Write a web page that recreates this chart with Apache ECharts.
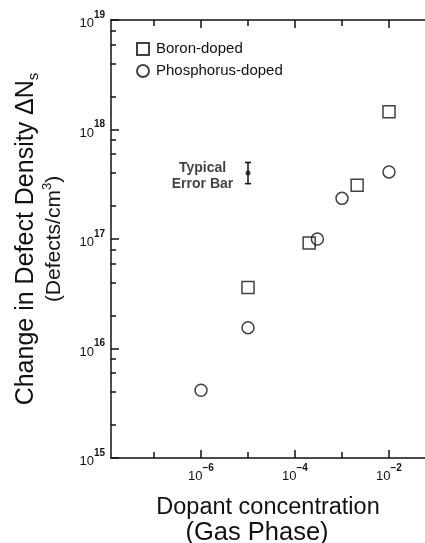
<!DOCTYPE html>
<html><head><meta charset="utf-8">
<script src="https://cdn.jsdelivr.net/npm/echarts@6/dist/echarts.min.js"></script>
<style>html,body{margin:0;padding:0;background:#fff}#c{width:425px;height:543px}</style>
</head><body><div id="c"></div>
<script>
// ---- data ----
const boronX = [1e-5, 2e-4, 2.1e-3, 1e-2];
const boronY = [3.6e16, 9.2e16, 3.1e17, 1.45e18];
const phosX = [1e-6, 1e-5, 3e-4, 1e-3, 1e-2];
const phosY = [4.15e15, 1.55e16, 1.0e17, 2.35e17, 4.1e17];
const errX = [1e-5];
const errMid = [4e17];
const errLow = [3.2e17];
const errHigh = [5e17];
const xLabelExp = [-6, -4, -2];
const xMinorExp = [-7, -5, -3];
const yLabelExp = [15, 16, 17, 18, 19];
const yMinorMult = [2, 4, 6, 8];
const seriesNames = ['Boron-doped', 'Phosphorus-doped'];

const L = Math.log10;
const FONT = '"Liberation Sans", Arial, Helvetica, sans-serif';
const INK = '#111';
const yMinor = [];
for (let e = 15; e < 19; e++) yMinorMult.forEach(m => yMinor.push(e + L(m)));

const xMin = -7.915, xMax = -1.234, yMin = 15, yMax = 19;
const lineStyle = {color: INK, width: 1.5};
const supRich = {
  b: {fontSize: 13, lineHeight: 13, verticalAlign: 'bottom', color: INK, fontFamily: FONT},
  s: {fontSize: 10, lineHeight: 10, padding: [0, 0, 10, 0], verticalAlign: 'bottom', color: INK, fontFamily: FONT, fontWeight: 'bold'}
};
const fmt = v => '{b|10}{s|' + String(Math.round(v)).replace('-', '\u2212') + '}';

function xAx(pos, ticks, len, showLine, label) {
  return {
    type: 'value', position: pos, min: xMin, max: xMax,
    axisLine: {show: showLine, onZero: false, lineStyle},
    axisTick: {show: true, inside: true, length: len, customValues: ticks, lineStyle},
    axisLabel: label ? {show: true, customValues: ticks, formatter: fmt, rich: supRich, margin: 12} : {show: false},
    splitLine: {show: false}, minorTick: {show: false}
  };
}
function yAx(ticks, len, showLine, label) {
  return {
    type: 'value', position: 'left', offset: 0, min: yMin, max: yMax,
    axisLine: {show: showLine, onZero: false, lineStyle},
    axisTick: {show: true, inside: true, length: len, customValues: ticks, lineStyle},
    axisLabel: label ? {show: true, customValues: ticks, formatter: fmt, rich: supRich, margin: 6, align: 'right', padding: [7, 0, 0, 0]} : {show: false},
    splitLine: {show: false}, minorTick: {show: false}
  };
}

const xMain = xAx('bottom', xLabelExp, 8, true, true);
xMain.name = '{a|Dopant concentration}\n{b|(Gas Phase)}';
xMain.nameLocation = 'middle';
xMain.nameGap = 37;
xMain.nameTextStyle = {
  color: INK, fontFamily: FONT,
  rich: {
    a: {fontSize: 23.5, lineHeight: 25, color: INK, fontFamily: FONT},
    b: {fontSize: 25.5, lineHeight: 26, color: INK, fontFamily: FONT, padding: [0, 22, 0, 0]}
  }
};

const yMain = yAx(yLabelExp, 8, true, true);
yMain.name = '{a|Change in Defect Density \u0394N}{u|s}\n{c|(Defects/cm}{p|3}{c|)}';
yMain.nameLocation = 'middle';
yMain.nameGap = 44;
yMain.nameTextStyle = {
  color: INK, fontFamily: FONT,
  rich: {
    a: {fontSize: 25, lineHeight: 29, color: INK, fontFamily: FONT},
    u: {fontSize: 15, lineHeight: 15, verticalAlign: 'bottom', color: INK, fontFamily: FONT},
    c: {fontSize: 21, lineHeight: 26, color: INK, fontFamily: FONT},
    p: {fontSize: 13, lineHeight: 13, verticalAlign: 'top', color: INK, fontFamily: FONT}
  }
};

const markerStyle = {color: 'rgba(0,0,0,0)', borderColor: INK, borderWidth: 1.5};

const option = {
  animation: false,
  backgroundColor: '#fff',
  textStyle: {fontFamily: FONT, color: INK},
  grid: {left: 111, right: 0, top: 20, bottom: 85, containLabel: false, outerBoundsMode: 'none'},
  legend: {
    data: seriesNames, orient: 'vertical', left: 131, top: 36,
    itemWidth: 12, itemHeight: 12, itemGap: 6, selectedMode: false,
    textStyle: {fontSize: 15, lineHeight: 16, color: INK, fontFamily: FONT, padding: [0, 0, 0, 2]}
  },
  xAxis: [
    xMain,
    xAx('bottom', xMinorExp, 6, false, false),
    xAx('top', xLabelExp, 8, true, false),
    xAx('top', xMinorExp, 6, false, false)
  ],
  yAxis: [
    yMain,
    yAx(yMinor, 5, false, false)
  ],
  series: [
    {
      name: seriesNames[0], type: 'scatter', symbol: 'rect', symbolSize: 12,
      xAxisIndex: 0, yAxisIndex: 0,
      itemStyle: markerStyle, emphasis: {disabled: true},
      data: boronX.map((x, i) => [L(x), L(boronY[i])])
    },
    {
      name: seriesNames[1], type: 'scatter', symbol: 'circle', symbolSize: 12,
      xAxisIndex: 0, yAxisIndex: 0,
      itemStyle: markerStyle, emphasis: {disabled: true},
      data: phosX.map((x, i) => [L(x), L(phosY[i])])
    },
    {
      name: 'error', type: 'custom', xAxisIndex: 0, yAxisIndex: 0,
      data: errX.map((x, i) => [L(x), L(errLow[i]), L(errHigh[i])]),
      renderItem: function (params, api) {
        const lo = api.coord([api.value(0), api.value(1)]);
        const hi = api.coord([api.value(0), api.value(2)]);
        const w = 3;
        const st = {stroke: INK, lineWidth: 1.5};
        return {type: 'group', children: [
          {type: 'line', shape: {x1: lo[0], y1: lo[1], x2: hi[0], y2: hi[1]}, style: st},
          {type: 'line', shape: {x1: lo[0] - w, y1: lo[1], x2: lo[0] + w, y2: lo[1]}, style: st},
          {type: 'line', shape: {x1: hi[0] - w, y1: hi[1], x2: hi[0] + w, y2: hi[1]}, style: st}
        ]};
      }
    },
    {
      name: 'errmid', type: 'scatter', symbol: 'circle', symbolSize: 5,
      xAxisIndex: 0, yAxisIndex: 0,
      itemStyle: {color: INK}, emphasis: {disabled: true},
      data: errX.map((x, i) => [L(x), L(errMid[i])]),
      label: {
        show: true, position: 'left', distance: 43, align: 'center',
        formatter: 'Typical\nError Bar', fontSize: 14, fontWeight: 'bold',
        lineHeight: 16, color: INK, fontFamily: FONT, offset: [0, 3]
      }
    }
  ]
};
echarts.init(document.getElementById('c'), null, {renderer: 'canvas'}).setOption(option);
</script></body></html>
